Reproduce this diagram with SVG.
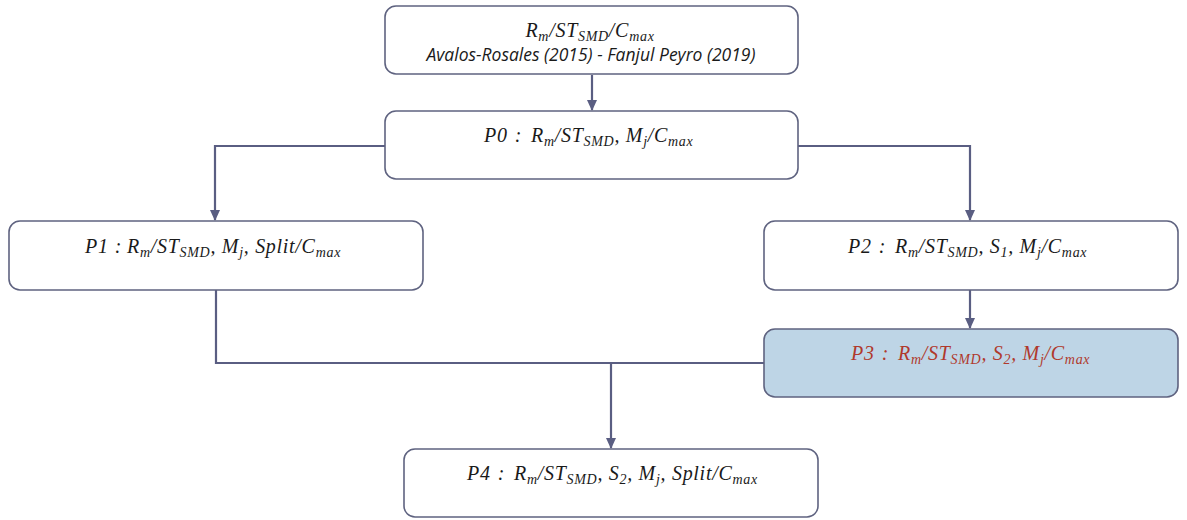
<svg xmlns="http://www.w3.org/2000/svg" width="1187" height="520" viewBox="0 0 1187 520">
<defs>
<style>
.box{fill:#ffffff;stroke:#5f6380;stroke-width:1.6}
.hl{fill:#bed5e6;stroke:#5f6380;stroke-width:1.6}
.m{font-family:"Liberation Serif","DejaVu Serif",serif;font-style:italic;font-size:20px;letter-spacing:0.7px;fill:#1a1a1a}
.ctr{text-anchor:middle}
.red{fill:#b0392c}
.s{font-size:14px}
.ref{font-family:"Open Sans","Liberation Sans",sans-serif;font-style:italic;font-size:17.5px;fill:#1a1a1a;text-anchor:middle}
.c{fill:none;stroke:#5a5e82;stroke-width:2.2}
</style>
<marker id="ah" markerWidth="12" markerHeight="10" refX="10" refY="5" orient="auto" markerUnits="userSpaceOnUse">
<path d="M0,0 L11,5 L0,10 Z" fill="#5a5e82"/>
</marker>
</defs>
<rect width="1187" height="520" fill="#ffffff"/>
<g id="connectors">
<path class="c" d="M592,75 V110" marker-end="url(#ah)"/>
<path class="c" d="M385,146 H215 V220" marker-end="url(#ah)"/>
<path class="c" d="M798,146 H970 V220" marker-end="url(#ah)"/>
<path class="c" d="M970,290 V328" marker-end="url(#ah)"/>
<path class="c" d="M216,290 V363 H764"/>
<path class="c" d="M611,363 V448" marker-end="url(#ah)"/>
</g>
<g id="top">
<rect class="box" x="385" y="6" width="413" height="68" rx="11"/>
<text class="m ctr" x="590" y="37">R<tspan class="s" dy="4">m</tspan><tspan dy="-4">/ST</tspan><tspan class="s" dy="4">SMD</tspan><tspan dy="-4">/C</tspan><tspan class="s" dy="4">max</tspan></text>
<text class="ref" x="591" y="61">Avalos-Rosales (2015)  - Fanjul Peyro (2019)</text>
</g>
<g id="p0">
<rect class="box" x="385" y="111" width="413" height="68" rx="11"/>
<text class="m" x="484" y="142">P0<tspan dx="7">:</tspan><tspan dx="9">R</tspan><tspan class="s" dy="4">m</tspan><tspan dy="-4">/ST</tspan><tspan class="s" dy="4">SMD</tspan><tspan dy="-4">, M</tspan><tspan class="s" dy="4">j</tspan><tspan dy="-4">/C</tspan><tspan class="s" dy="4">max</tspan></text>
</g>
<g id="p1">
<rect class="box" x="9" y="221" width="414" height="69" rx="11"/>
<text class="m" x="85" y="253">P1<tspan dx="6">:</tspan><tspan dx="5">R</tspan><tspan class="s" dy="4">m</tspan><tspan dy="-4">/ST</tspan><tspan class="s" dy="4">SMD</tspan><tspan dy="-4">, M</tspan><tspan class="s" dy="4">j</tspan><tspan dy="-4">, Split/C</tspan><tspan class="s" dy="4">max</tspan></text>
</g>
<g id="p2">
<rect class="box" x="764" y="221" width="414" height="69" rx="11"/>
<text class="m" x="848" y="253">P2<tspan dx="7">:</tspan><tspan dx="9">R</tspan><tspan class="s" dy="4">m</tspan><tspan dy="-4">/ST</tspan><tspan class="s" dy="4">SMD</tspan><tspan dy="-4">, S</tspan><tspan class="s" dy="4">1</tspan><tspan dy="-4">, M</tspan><tspan class="s" dy="4">j</tspan><tspan dy="-4">/C</tspan><tspan class="s" dy="4">max</tspan></text>
</g>
<g id="p3">
<rect class="hl" x="764" y="329" width="414" height="68" rx="11"/>
<text class="m red" x="851" y="360">P3<tspan dx="7">:</tspan><tspan dx="9">R</tspan><tspan class="s" dy="4">m</tspan><tspan dy="-4">/ST</tspan><tspan class="s" dy="4">SMD</tspan><tspan dy="-4">, S</tspan><tspan class="s" dy="4">2</tspan><tspan dy="-4">, M</tspan><tspan class="s" dy="4">j</tspan><tspan dy="-4">/C</tspan><tspan class="s" dy="4">max</tspan></text>
</g>
<g id="p4">
<rect class="box" x="404" y="449" width="414" height="68" rx="11"/>
<text class="m" x="467" y="480">P4<tspan dx="7">:</tspan><tspan dx="9">R</tspan><tspan class="s" dy="4">m</tspan><tspan dy="-4">/ST</tspan><tspan class="s" dy="4">SMD</tspan><tspan dy="-4">, S</tspan><tspan class="s" dy="4">2</tspan><tspan dy="-4">, M</tspan><tspan class="s" dy="4">j</tspan><tspan dy="-4">, Split/C</tspan><tspan class="s" dy="4">max</tspan></text>
</g>
</svg>
